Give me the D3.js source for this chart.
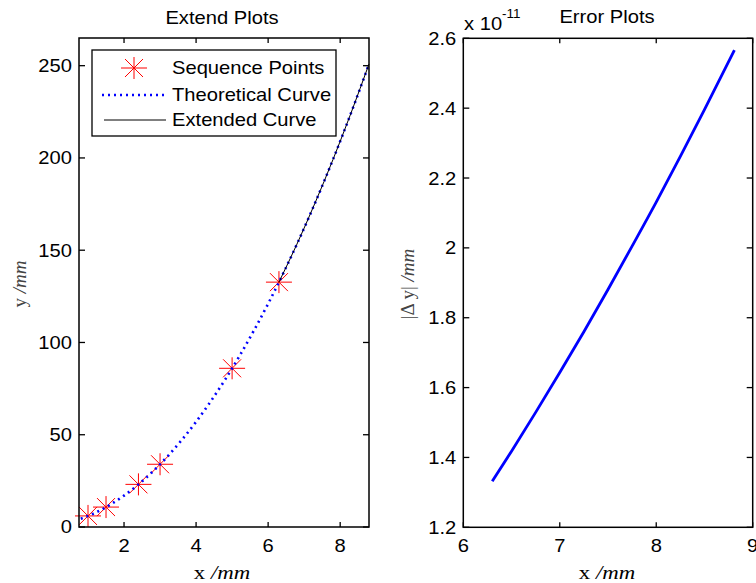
<!DOCTYPE html>
<html>
<head>
<meta charset="utf-8">
<script src="https://cdn.jsdelivr.net/npm/d3@7"></script>
<style>
  html, body { margin: 0; padding: 0; background: #fff; }
  svg { display: block; }
</style>
</head>
<body>
<svg id="chart" width="756" height="583"></svg>
<script>
// ---- data ----
// sample points marked with stars
const seqX = [1.0, 1.5, 2.4, 3.0, 5.0, 6.3];
const seqY = [6.0, 10.8, 23.1, 34.0, 86.0, 132.7];

// theoretical curve (dotted)
const theoX = [0.8, 1.2, 1.6, 2.0, 2.4, 2.8, 3.2, 3.6, 4.0, 4.4, 4.8, 5.2, 5.6, 6.0, 6.4, 6.8, 7.2, 7.6, 8.0, 8.4, 8.8];
const theoY = [4.5, 7.7, 11.9, 17.0, 23.1, 30.1, 38.1, 47.1, 57.0, 67.9, 79.7, 92.5, 106.3, 121.0, 136.7, 153.3, 170.9, 189.5, 209.0, 229.5, 250.9];

// extended curve (solid)
const extX = [6.3, 6.8, 7.3, 7.8, 8.3, 8.8];
const extY = [132.7, 153.3, 175.5, 199.1, 224.3, 250.9];

// absolute error of the extended curve, in units of 1e-11 mm
const errX = [6.30, 6.50, 6.75, 7.00, 7.25, 7.50, 7.75, 8.00, 8.25, 8.50, 8.81];
const errY = [1.332, 1.418, 1.529, 1.643, 1.760, 1.881, 2.005, 2.131, 2.262, 2.396, 2.566];

// tick labels
const leftXTicks = [2, 4, 6, 8];
const leftYTicks = [0, 50, 100, 150, 200, 250];
const rightXTicks = [6, 7, 8, 9];
const rightYTicks = [1.2, 1.4, 1.6, 1.8, 2.0, 2.2, 2.4, 2.6];

const legendLabels = ["Sequence Points", "Theoretical Curve", "Extended Curve"];

// ---- drawing ----
const svg = d3.select("#chart");
const SANS = "'Liberation Sans', Arial, Helvetica, sans-serif";
const SERIF = "'Liberation Serif', 'Times New Roman', serif";
const SX = 1.12; // horizontal widening of the lettering
const FS = 18;

function label(parent, x, y, str, opts = {}) {
  const g = parent.append("g")
    .attr("transform", `translate(${x},${y}) scale(${opts.sx || SX},1)` + (opts.rotate ? ` rotate(${opts.rotate})` : ""));
  const t = g.append("text")
    .attr("text-anchor", opts.anchor || "middle")
    .attr("font-family", opts.family || SANS)
    .attr("font-size", opts.size || FS)
    .attr("fill", opts.fill || "#000");
  if (opts.dy) t.attr("dy", opts.dy);
  return t.text(str);
}

function frame(xs, ys, xTicks, yTicks, fmtY) {
  const g = svg.append("g");
  const [x0, x1] = xs.range();
  const [y0, y1] = ys.range(); // y0 bottom, y1 top
  const tl = 5;
  // tick marks on all four sides, pointing inwards
  xTicks.forEach(v => {
    const px = xs(v);
    g.append("line").attr("x1", px).attr("x2", px).attr("y1", y0).attr("y2", y0 - tl);
    g.append("line").attr("x1", px).attr("x2", px).attr("y1", y1).attr("y2", y1 + tl);
    label(g, px, y0 + 25, String(v));
  });
  yTicks.forEach(v => {
    const py = ys(v);
    g.append("line").attr("x1", x0).attr("x2", x0 + tl + 1).attr("y1", py).attr("y2", py);
    g.append("line").attr("x1", x1).attr("x2", x1 - tl - 1).attr("y1", py).attr("y2", py);
    label(g, x0 - 7, py, fmtY(v), { anchor: "end", dy: "0.36em" });
  });
  g.selectAll("line").attr("stroke", "#000").attr("stroke-width", 1.3);
  g.append("rect")
    .attr("x", x0).attr("y", y1).attr("width", x1 - x0).attr("height", y0 - y1)
    .attr("fill", "none").attr("stroke", "#000").attr("stroke-width", 1.5);
  return g;
}

function starPath(cx, cy) {
  const h = 13, v = 11, d = 9;
  return `M${cx - h},${cy}L${cx + h},${cy}` +
         `M${cx},${cy - v}L${cx},${cy + v}` +
         `M${cx - d},${cy - d}L${cx + d},${cy + d}` +
         `M${cx - d},${cy + d}L${cx + d},${cy - d}`;
}

// ---------- left panel: Extend Plots ----------
const xL = d3.scaleLinear().domain([0.75, 8.8]).range([79, 369]);
const yL = d3.scaleLinear().domain([0, 265]).range([527, 38]);

const lineL = d3.line().x(d => xL(d[0])).y(d => yL(d[1])).curve(d3.curveMonotoneX);
const pL = svg.append("g");

// stars
pL.selectAll("path.star")
  .data(d3.zip(seqX, seqY))
  .join("path")
  .attr("class", "star")
  .attr("d", d => starPath(xL(d[0]), yL(d[1])))
  .attr("stroke", "#ff0000").attr("stroke-width", 1).attr("fill", "none");

// theoretical dotted curve
pL.append("path")
  .datum(d3.zip(theoX, theoY))
  .attr("d", lineL)
  .attr("fill", "none").attr("stroke", "#0000ff").attr("stroke-width", 2.6)
  .attr("stroke-dasharray", "2,4");

// extended solid curve
pL.append("path")
  .datum(d3.zip(extX, extY))
  .attr("d", lineL)
  .attr("fill", "none").attr("stroke", "#000").attr("stroke-width", 1);

frame(xL, yL, leftXTicks, leftYTicks, d => String(d));

// legend
const lg = svg.append("g");
lg.append("rect").attr("x", 92).attr("y", 50).attr("width", 244).attr("height", 86)
  .attr("fill", "#fff").attr("stroke", "#000").attr("stroke-width", 1.3);
const rowY = [68, 95, 120];
lg.append("path").attr("d", starPath(134, rowY[0]))
  .attr("stroke", "#ff0000").attr("stroke-width", 1).attr("fill", "none");
lg.append("line").attr("x1", 102).attr("x2", 165).attr("y1", rowY[1]).attr("y2", rowY[1])
  .attr("stroke", "#0000ff").attr("stroke-width", 2.6).attr("stroke-dasharray", "2,4");
lg.append("line").attr("x1", 104).attr("x2", 166).attr("y1", rowY[2]).attr("y2", rowY[2])
  .attr("stroke", "#000").attr("stroke-width", 1);
legendLabels.forEach((s, i) => label(lg, 172, rowY[i], s, { anchor: "start", dy: "0.36em" }));

// titles / axis labels
label(svg, 222, 24, "Extend Plots");
{
  const t = label(svg, 222, 579, "x ", { family: SERIF, size: 19, sx: 1.2 });
  t.append("tspan").attr("font-style", "italic").text("/mm");
}
{
  const t = label(svg, 26, 284, "y ", { family: SERIF, size: 19, sx: 1.0, rotate: -90, fill: "#444" });
  t.append("tspan").attr("font-style", "italic").text("/mm");
}

// ---------- right panel: Error Plots ----------
const xR = d3.scaleLinear().domain([6, 9]).range([463.3, 752.7]);
const yR = d3.scaleLinear().domain([1.2, 2.6]).range([527.3, 38.3]);

svg.append("path")
  .datum(d3.zip(errX, errY))
  .attr("d", d3.line().x(d => xR(d[0])).y(d => yR(d[1])).curve(d3.curveMonotoneX))
  .attr("fill", "none").attr("stroke", "#0000ff").attr("stroke-width", 2.8);

frame(xR, yR, rightXTicks, rightYTicks, d => (d === 2 ? "2" : d3.format(".1f")(d)));

label(svg, 607, 23, "Error Plots");
{
  label(svg, 464, 30, "x 10", { anchor: "start" });
  label(svg, 502, 18, "-11", { anchor: "start", size: 12 });
}
{
  const t = label(svg, 414, 284, "|\u0394 y| ", { family: SERIF, size: 19, sx: 1.0, rotate: -90, fill: "#444" });
  t.append("tspan").attr("font-style", "italic").text("/mm");
}
label(svg, 607, 579, "x ", { family: SERIF, size: 19, sx: 1.2 })
  .append("tspan").attr("font-style", "italic").text("/mm");
</script>
</body>
</html>
